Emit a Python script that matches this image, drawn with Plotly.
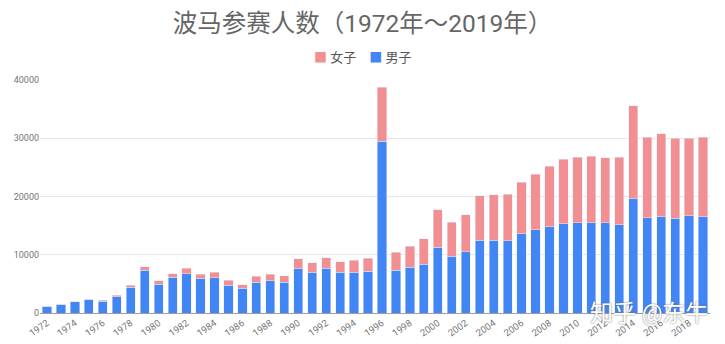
import plotly.graph_objects as go

years = [str(y) for y in range(1972, 2020)]
men = [1140, 1490, 1900, 2350, 2060, 2750, 4410, 7330, 4930, 6130,
       6700, 5960, 6020, 4760, 4240, 5270, 5560, 5270, 7560, 6990,
       7680, 6990, 6990, 7160, 29450, 7330, 7850, 8370, 11290, 9740,
       10490, 12490, 12490, 12380, 13640, 14270, 14840, 15360, 15470, 15470,
       15470, 15180, 19600, 16390, 16560, 16270, 16670, 16500]
totals = [1150, 1490, 1950, 2350, 2180, 3040, 4760, 7960, 5500, 6760,
          7680, 6650, 6990, 5620, 4870, 6300, 6650, 6420, 9280, 8600,
          9510, 8820, 9050, 9400, 38740, 10430, 11460, 12780, 17710, 15590,
          16900, 20170, 20280, 20400, 22460, 23780, 25210, 26360, 26760, 26930,
          26640, 26760, 35580, 30200, 30770, 30030, 30030, 30200]
women = [t - m for t, m in zip(totals, men)]
tick_labels = years[::2]

BLUE = "#4285F4"
PINK = "#F28F93"
font_fam = "Roboto, 'Noto Sans CJK SC', sans-serif"

fig = go.Figure()
fig.add_trace(go.Bar(x=years, y=men, name="男子", marker_color=BLUE, showlegend=False))
fig.add_trace(go.Bar(x=years, y=women, name="女子", marker_color=PINK, showlegend=False))

legend_text = (f"<span style='color:{PINK}'>■</span> 女子    "
               f"<span style='color:{BLUE}'>■</span> 男子")

fig.update_layout(
    barmode="stack",
    bargap=0.34,
    width=725, height=344,
    margin=dict(l=40, r=15, t=80, b=31),
    paper_bgcolor="white", plot_bgcolor="white",
    font=dict(family=font_fam, color="#757575"),
    title=dict(text="波马参赛人数（1972年～2019年）", x=0.5, xanchor="center",
               y=1 - 23 / 344, yanchor="middle",
               font=dict(size=24.5, color="#666666", family=font_fam)),
    showlegend=False,
    annotations=[
        dict(text=legend_text, x=362, xref="paper", y=1 - 57 / 344, yref="paper",
             showarrow=False, font=dict(size=13, color="#555555", family=font_fam)),
        dict(text="知乎 @东牛", x=1.0, xref="paper", y=0.0, yref="paper",
             xanchor="right", yanchor="middle", showarrow=False,
             font=dict(size=23, color="white", family=font_fam,
                       shadow="0px 0px 2px #666666")),
    ],
)
# place legend annotation in pixel-ish paper coordinates
fig.layout.annotations[0].x = (362 - 40) / (725 - 55)
fig.layout.annotations[0].y = (344 - 31 - 57) / (344 - 111)
fig.layout.annotations[0].yanchor = "middle"
fig.layout.annotations[0].xanchor = "center"

fig.update_xaxes(type="category", tickmode="array", tickvals=tick_labels,
                 ticktext=tick_labels, tickangle=-35, tickfont=dict(size=9.5, color="#757575"),
                 showline=True, linecolor="#9e9e9e", ticks="", showgrid=False,
                 automargin=False)
fig.update_yaxes(range=[0, 40000], dtick=10000, tickfont=dict(size=9, color="#757575"),
                 showgrid=True, gridcolor="#e6e6e6", zeroline=False, ticks="",
                 tickformat="d", automargin=False)

fig.write_html("out.html")
